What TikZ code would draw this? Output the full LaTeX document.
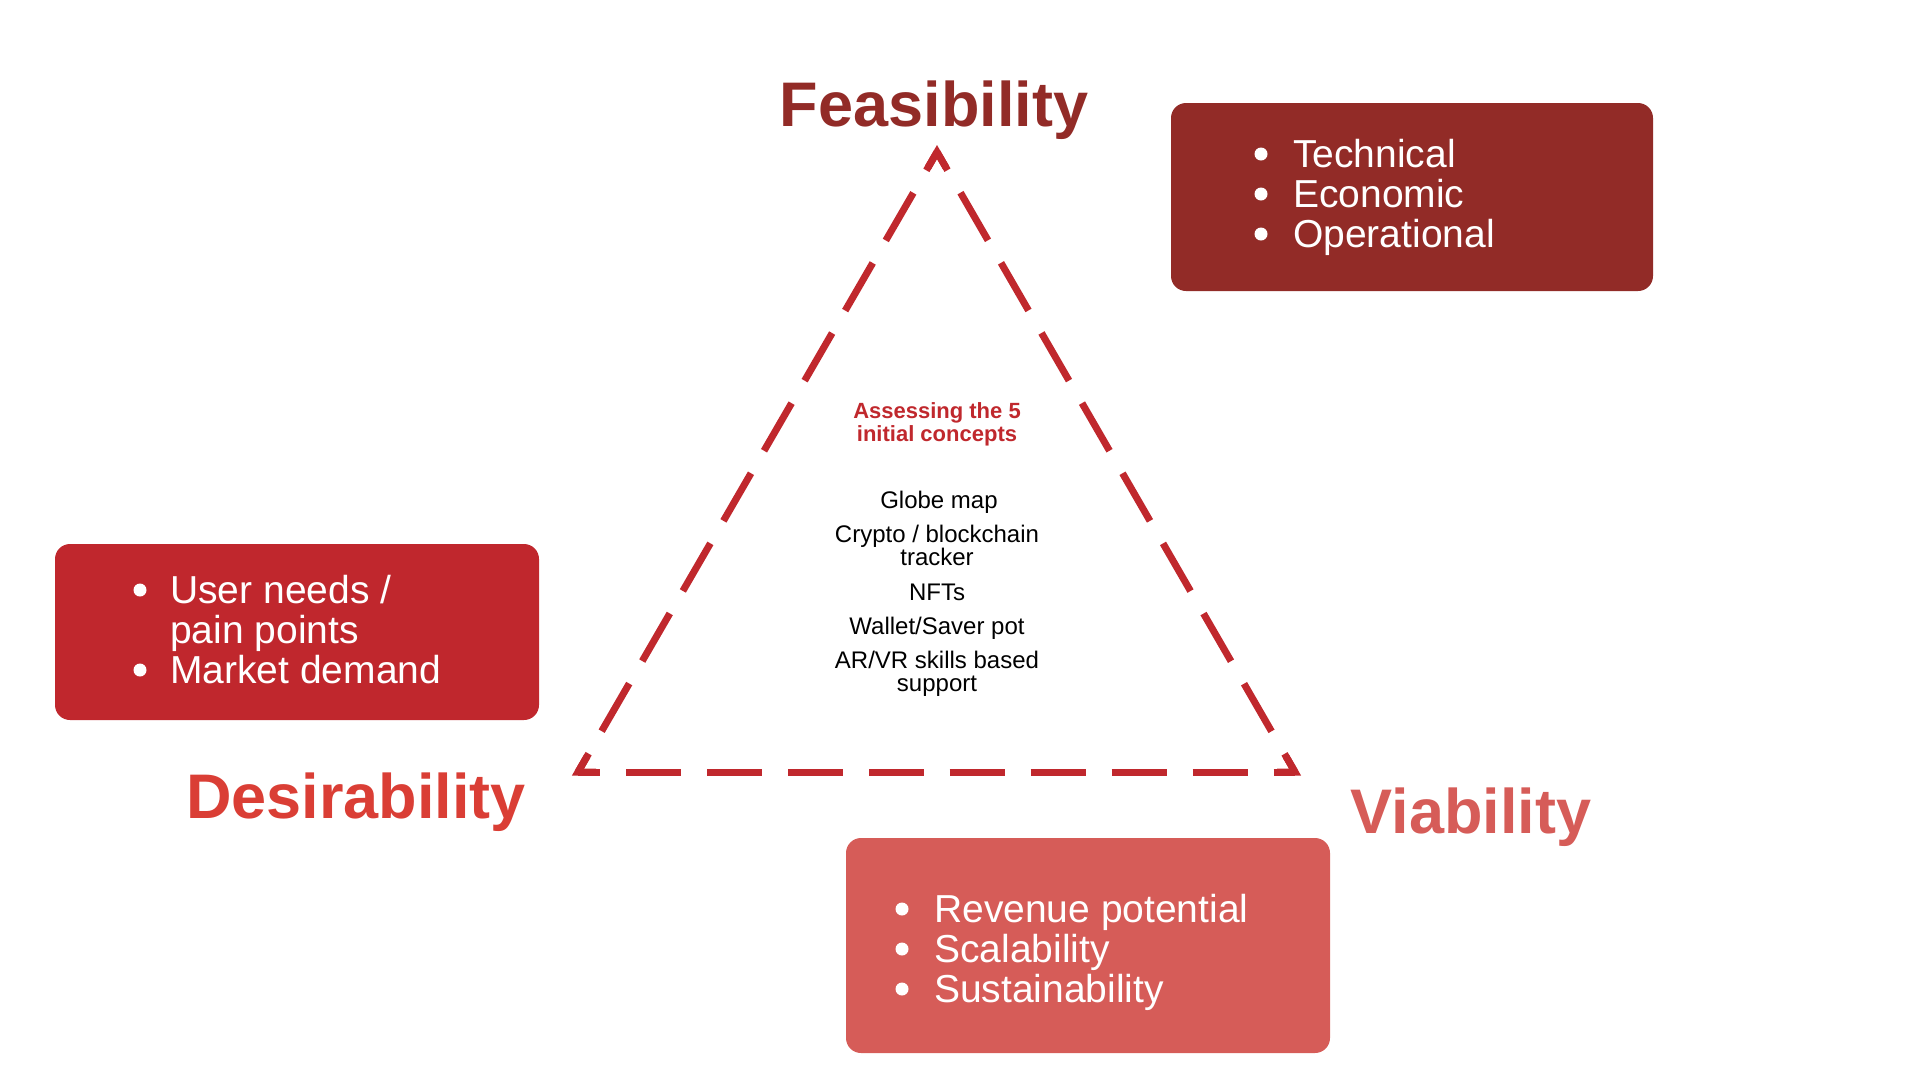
\documentclass[tikz,border=0pt]{standalone}
\usepackage{fontspec}
\setmainfont{Liberation Sans}
\usetikzlibrary{calc}
\definecolor{feas}{HTML}{922B27}
\definecolor{desbox}{HTML}{C0272D}
\definecolor{destitle}{HTML}{DA3E35}
\definecolor{viab}{HTML}{D65C58}
\definecolor{tri}{HTML}{C0282D}
\begin{document}
\begin{tikzpicture}[x=1pt,y=-1pt,
  panel/.style={rounded corners=15pt, draw=none, inner sep=0pt},
  item/.style={anchor=base west, text=white, font=\fontsize{39}{39}\selectfont, inner sep=0pt},
  bigtitle/.style={anchor=base, font=\bfseries\fontsize{63}{63}\selectfont, inner sep=0pt},
  redline/.style={anchor=base, text=tri, font=\bfseries\fontsize{22}{23}\selectfont, inner sep=0pt},
  blackline/.style={anchor=base, text=black, font=\fontsize{24}{24}\selectfont, inner sep=0pt},
  dashside/.style={draw=tri, line width=7pt, dash pattern=on 55pt off 26pt, dash phase=68pt},
  corner/.style={draw=tri, line width=7pt, line join=miter},
  dot/.style={fill=white}]
\useasboundingbox (0,0) rectangle (1920,1080);

% panels
\node[panel, fill=feas, minimum width=482pt, minimum height=188pt] (fbox) at (1412,197) {};
\node[panel, fill=desbox, minimum width=484pt, minimum height=176pt] (dbox) at (297,632) {};
\node[panel, fill=viab, minimum width=484pt, minimum height=215pt] (vbox) at (1088,945.5) {};

% titles
\node[bigtitle, text=feas] (ftitle) at (934,126) {Feasibility};
\node[bigtitle, text=destitle] (dtitle) at (356,818) {Desirability};
\node[bigtitle, text=viab] (vtitle) at (1471,833) {Viability};

% feasibility items
\node[item] (f1) at (1293,167) {Technical};
\node[item] (f2) at (1293,207) {Economic};
\node[item] (f3) at (1293,247) {Operational};
\fill[dot] (1261,154) circle (6.5pt);
\fill[dot] (1261,194) circle (6.5pt);
\fill[dot] (1261,234) circle (6.5pt);

% desirability items
\node[item] (d1) at (170,603) {User needs /};
\node[item] (d2) at (170,643) {pain points};
\node[item] (d3) at (170,683) {Market demand};
\fill[dot] (140,590) circle (6.5pt);
\fill[dot] (140,670) circle (6.5pt);

% viability items
\node[item] (v1) at (934,922) {Revenue potential};
\node[item] (v2) at (934,962) {Scalability};
\node[item] (v3) at (934,1002) {Sustainability};
\fill[dot] (902,909) circle (6.5pt);
\fill[dot] (902,949) circle (6.5pt);
\fill[dot] (902,989) circle (6.5pt);

% triangle
\coordinate (A) at (937,152);
\coordinate (B) at (578,772);
\coordinate (C) at (1295,772);
\coordinate (mAB) at ($(A)!0.5!(B)$);
\coordinate (mBC) at ($(B)!0.5!(C)$);
\coordinate (mCA) at ($(C)!0.5!(A)$);
\draw[dashside] (mAB) -- (A);
\draw[dashside] (mAB) -- (B);
\draw[dashside] (mBC) -- (B);
\draw[dashside] (mBC) -- (C);
\draw[dashside] (mCA) -- (C);
\draw[dashside] (mCA) -- (A);
\draw[corner] ($(A)!18pt!(B)$) -- (A) -- ($(A)!18pt!(C)$);
\draw[corner] ($(B)!18pt!(A)$) -- (B) -- ($(B)!18pt!(C)$);
\draw[corner] ($(C)!18pt!(A)$) -- (C) -- ($(C)!18pt!(B)$);

% centre text
\node[redline] (t1) at (937,418) {Assessing the 5};
\node[redline] (t2) at (937,441) {initial concepts};
\node[blackline] (c1) at (939,508) {Globe map};
\node[blackline] (c2) at (937,542) {Crypto / blockchain};
\node[blackline] (c3) at (937,565) {tracker};
\node[blackline] (c4) at (937,600) {NFTs};
\node[blackline] (c5) at (937,634) {Wallet/Saver pot};
\node[blackline] (c6) at (937,668) {AR/VR skills based};
\node[blackline] (c7) at (937,691) {support};
\end{tikzpicture}
\end{document}
